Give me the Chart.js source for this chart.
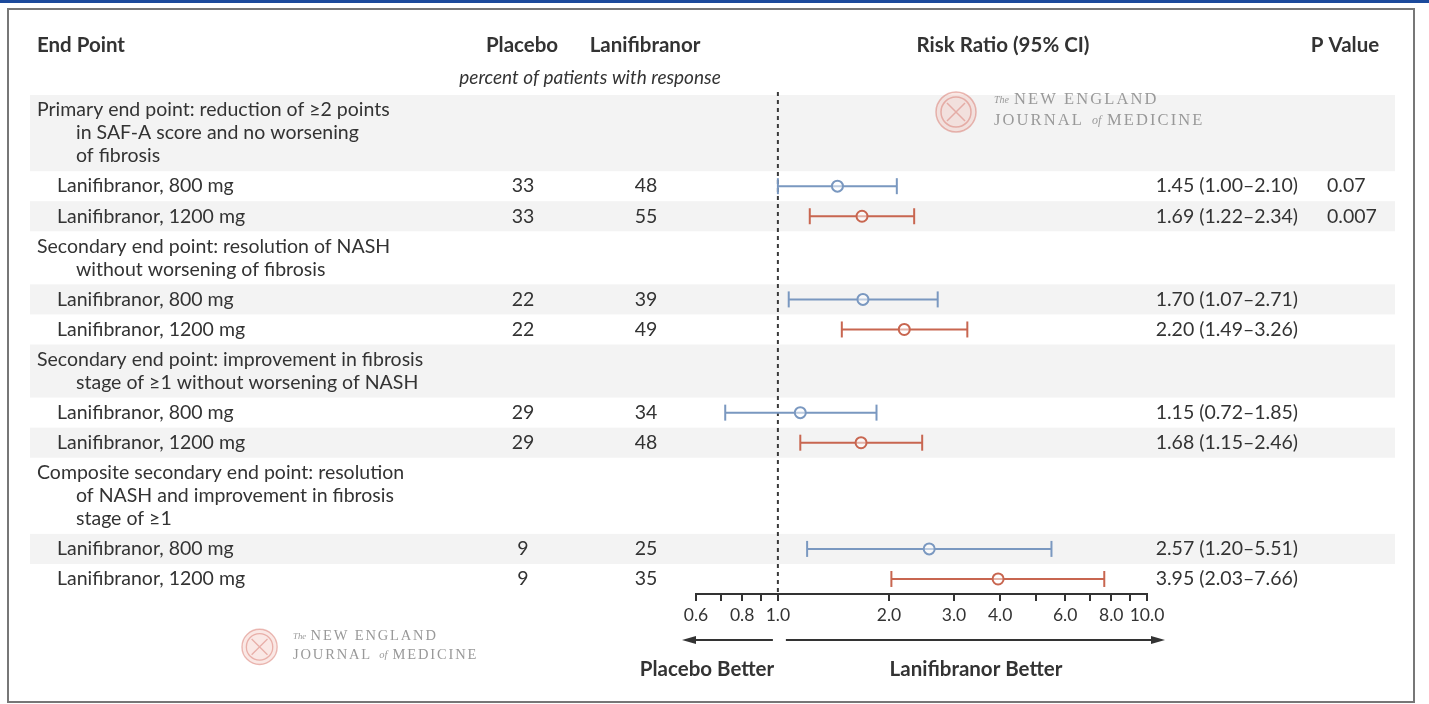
<!DOCTYPE html>
<html>
<head>
<meta charset="utf-8">
<script src="https://cdn.jsdelivr.net/npm/chart.js@4"></script>
<style>
  html, body { margin: 0; padding: 0; background: #fff; }
  canvas { display: block; }
</style>
</head>
<body>
<canvas id="forest" width="1429" height="704"></canvas>
<script>
// End point groups (header lines) and dose rows
const groups = [
  ['Primary end point: reduction of \u22652 points', 'in SAF-A score and no worsening', 'of fibrosis'],
  ['Secondary end point: resolution of NASH', 'without worsening of fibrosis'],
  ['Secondary end point: improvement in fibrosis', 'stage of \u22651 without worsening of NASH'],
  ['Composite secondary end point: resolution', 'of NASH and improvement in fibrosis', 'stage of \u22651']
];
const doses = ['Lanifibranor, 800 mg', 'Lanifibranor, 1200 mg'];

// one value per row, in reading order (800 mg, 1200 mg for each group)
const placebo = [33, 33, 22, 22, 29, 29, 9, 9];
const lanifibranor = [48, 55, 39, 49, 34, 48, 25, 35];
const riskRatio = [1.45, 1.69, 1.70, 2.20, 1.15, 1.68, 2.57, 3.95];
const ciLow = [1.00, 1.22, 1.07, 1.49, 0.72, 1.15, 1.20, 2.03];
const ciHigh = [2.10, 2.34, 2.71, 3.26, 1.85, 2.46, 5.51, 7.66];
const pValues = ['0.07', '0.007', '', '', '', '', '', ''];

const xTicks = [0.6, 0.7, 0.8, 0.9, 1, 2, 3, 4, 5, 6, 7, 8, 9, 10];
const xTickLabels = ['0.6', '', '0.8', '', '1.0', '2.0', '3.0', '4.0', '', '6.0', '', '8.0', '', '10.0'];

const BLUE = 'rgb(122, 152, 192)';
const RED = 'rgb(200, 102, 80)';
const TEXT = '#333';
const FONT = 'Lato, "Open Sans", sans-serif';

// layout in y units (roughly one unit per pixel)
const lineH = 23, rowH = 30, groupPad = 7;
const bands = [];
const headerLines = [];
const rowY = [];
let cursor = 0;
groups.forEach(g => {
  const start = cursor;
  g.forEach((t, li) => headerLines.push({ text: t, y: start + 15 + li * lineH, indent: li > 0 }));
  cursor += g.length * lineH + groupPad;
  bands.push([start, cursor]);
  doses.forEach(() => {
    bands.push([cursor, cursor + rowH]);
    rowY.push(cursor + rowH / 2);
    cursor += rowH;
  });
});
const yMax = cursor;

function ciData(parity) {
  const pts = [];
  rowY.forEach((y, i) => {
    if (i % 2 !== parity) return;
    pts.push({ x: ciLow[i], y: y });
    pts.push({ x: ciHigh[i], y: y });
    pts.push({ x: null, y: null });
  });
  return pts;
}
function rrData(parity) {
  return rowY.map((y, i) => ({ x: riskRatio[i], y: y })).filter((p, i) => i % 2 === parity);
}

const tablePlugin = {
  id: 'table',
  beforeDatasetsDraw(chart) {
    const ctx = chart.ctx;
    const ys = chart.scales.y;
    const xs = chart.scales.x;
    ctx.save();
    // alternating row shading
    bands.forEach((b, i) => {
      if (i % 2 !== 0) return;
      const top = ys.getPixelForValue(b[0]);
      const bot = ys.getPixelForValue(b[1]);
      ctx.fillStyle = '#f3f3f3';
      ctx.fillRect(30, top, 1365, bot - top);
    });
    // line of no effect
    const x1 = xs.getPixelForValue(1);
    ctx.strokeStyle = '#3a3a3a';
    ctx.lineWidth = 2;
    ctx.setLineDash([4, 4]);
    ctx.beginPath();
    ctx.moveTo(x1, 92);
    ctx.lineTo(x1, chart.chartArea.bottom);
    ctx.stroke();
    ctx.restore();
  },
  afterDraw(chart) {
    const ctx = chart.ctx;
    const ys = chart.scales.y;
    const xs = chart.scales.x;
    ctx.save();
    ctx.textBaseline = 'middle';
    ctx.fillStyle = TEXT;

    // column headers
    ctx.font = 'bold 20.5px ' + FONT;
    ctx.textAlign = 'left';
    ctx.fillText('End Point', 37, 45);
    ctx.textAlign = 'center';
    ctx.fillText('Placebo', 522, 45);
    ctx.fillText('Lanifibranor', 645, 45);
    ctx.fillText('Risk Ratio (95% CI)', 1003, 45);
    ctx.fillText('P Value', 1345, 45);
    ctx.font = 'italic 19px ' + FONT;
    ctx.fillText('percent of patients with response', 590, 78);

    // end point text
    ctx.font = '19.5px ' + FONT;
    ctx.textAlign = 'left';
    headerLines.forEach(h => {
      ctx.fillText(h.text, h.indent ? 76 : 37, ys.getPixelForValue(h.y));
    });
    rowY.forEach((y, i) => {
      const py = ys.getPixelForValue(y);
      ctx.textAlign = 'left';
      ctx.fillText(doses[i % 2], 57, py);
      ctx.textAlign = 'center';
      ctx.fillText(String(placebo[i]), 523, py);
      ctx.fillText(String(lanifibranor[i]), 646, py);
      ctx.textAlign = 'right';
      ctx.fillText(riskRatio[i].toFixed(2) + ' (' + ciLow[i].toFixed(2) + '\u2013' + ciHigh[i].toFixed(2) + ')', 1298, py);
      ctx.textAlign = 'left';
      ctx.fillText(pValues[i], 1327, py);
    });

    // direction arrows
    const x1 = xs.getPixelForValue(1);
    const ay = 640;
    ctx.strokeStyle = '#333';
    ctx.fillStyle = '#333';
    ctx.lineWidth = 2;
    ctx.beginPath();
    ctx.moveTo(x1 - 5, ay); ctx.lineTo(xs.left - 4, ay);
    ctx.moveTo(x1 + 8, ay); ctx.lineTo(xs.right + 8, ay);
    ctx.stroke();
    ctx.beginPath();
    ctx.moveTo(xs.left - 14, ay); ctx.lineTo(xs.left, ay - 4); ctx.lineTo(xs.left, ay + 4); ctx.closePath();
    ctx.moveTo(xs.right + 18, ay); ctx.lineTo(xs.right + 4, ay - 4); ctx.lineTo(xs.right + 4, ay + 4); ctx.closePath();
    ctx.fill();

    ctx.fillStyle = TEXT;
    ctx.font = 'bold 20.5px ' + FONT;
    ctx.textAlign = 'center';
    ctx.fillText('Placebo Better', 707, 669);
    ctx.fillText('Lanifibranor Better', 976, 669);

    // NEJM marks
    drawMark(ctx, 994, 111, 1);
    drawMark(ctx, 293, 646, 0.88);

    // frame
    ctx.fillStyle = '#1c4a9c';
    ctx.fillRect(0, 0, 1429, 3);
    ctx.strokeStyle = '#777';
    ctx.lineWidth = 2;
    ctx.strokeRect(8, 9, 1406, 693);
    ctx.restore();
  }
};

// watermark, origin at the left edge of the text block
function drawMark(ctx, x0, y0, s) {
  ctx.save();
  ctx.translate(x0, y0);
  ctx.scale(s, s);
  const cx = -38, cy = 1;
  ctx.strokeStyle = 'rgba(215, 120, 110, 0.5)';
  ctx.fillStyle = 'rgba(240, 190, 180, 0.35)';
  ctx.lineWidth = 1.5;
  ctx.beginPath();
  ctx.arc(cx, cy, 20, 0, Math.PI * 2);
  ctx.fill();
  ctx.stroke();
  ctx.beginPath();
  ctx.arc(cx, cy, 15, 0, Math.PI * 2);
  ctx.stroke();
  ctx.beginPath();
  ctx.moveTo(cx - 9, cy - 9); ctx.lineTo(cx + 9, cy + 9);
  ctx.moveTo(cx + 9, cy - 9); ctx.lineTo(cx - 9, cy + 9);
  ctx.stroke();
  ctx.fillStyle = '#999';
  ctx.textAlign = 'left';
  ctx.textBaseline = 'middle';
  ctx.font = 'italic 10px "Liberation Serif", serif';
  ctx.fillText('The', 0, -11);
  ctx.letterSpacing = '2.1px';
  ctx.font = '16.5px "Liberation Serif", serif';
  ctx.fillText('NEW ENGLAND', 20, -11);
  ctx.fillText('JOURNAL', 0, 10);
  ctx.letterSpacing = '0px';
  ctx.font = 'italic 12px "Liberation Serif", serif';
  ctx.fillText('of', 98, 10);
  ctx.letterSpacing = '2.1px';
  ctx.font = '16.5px "Liberation Serif", serif';
  ctx.fillText('MEDICINE', 113, 10);
  ctx.restore();
}

const lineSet = (parity, color) => ({
  type: 'scatter',
  data: ciData(parity),
  showLine: true,
  spanGaps: false,
  borderColor: color,
  borderWidth: 2,
  pointStyle: 'line',
  rotation: 90,
  pointRadius: 8,
  pointBorderColor: color,
  pointBorderWidth: 2
});
const pointSet = (parity, color) => ({
  type: 'scatter',
  data: rrData(parity),
  pointStyle: 'circle',
  pointRadius: 5.5,
  pointBorderWidth: 2,
  pointBorderColor: color,
  pointBackgroundColor: 'rgba(255,255,255,0.5)'
});

new Chart(document.getElementById('forest'), {
  data: {
    datasets: [
      pointSet(0, BLUE),
      pointSet(1, RED),
      lineSet(0, BLUE),
      lineSet(1, RED)
    ]
  },
  options: {
    responsive: false,
    animation: false,
    devicePixelRatio: 1,
    clip: false,
    layout: { padding: { left: 696, right: 282, top: 95, bottom: 80 } },
    plugins: { legend: { display: false }, tooltip: { enabled: false } },
    scales: {
      x: {
        type: 'logarithmic',
        min: 0.6,
        max: 10,
        afterBuildTicks: s => { s.ticks = xTicks.map(v => ({ value: v })); },
        afterFit: s => { s.height = 30; },
        border: { display: true, color: '#333', width: 2 },
        grid: { display: true, drawOnChartArea: false, drawTicks: true, tickLength: 7, color: '#333', lineWidth: 2 },
        ticks: {
          autoSkip: false,
          maxRotation: 0,
          padding: 4,
          color: TEXT,
          font: { family: FONT, size: 17.5 },
          callback: (v, i) => xTickLabels[i]
        }
      },
      y: {
        type: 'linear',
        display: false,
        reverse: true,
        min: 0,
        max: yMax
      }
    }
  },
  plugins: [tablePlugin]
});
</script>
</body>
</html>
